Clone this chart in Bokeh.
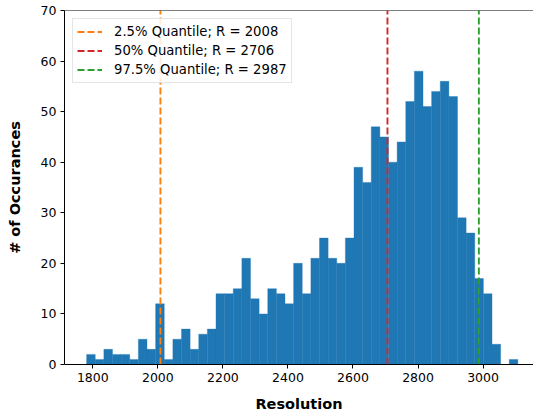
import numpy as np
from bokeh.plotting import figure
from bokeh.models import Range1d, FixedTicker, Span
from bokeh.embed import file_html
from bokeh.resources import INLINE

# ---- data ----
counts = [2, 1, 3, 2, 2, 1, 5, 3, 12, 1, 5, 7, 3, 6, 7,
          14, 14, 15, 21, 13, 10, 15, 14, 12, 20, 14, 21, 25, 21, 20, 25,
          39, 36, 47, 45, 40, 44, 52, 58, 51, 54, 56, 53, 29, 26, 17, 14, 4, 0, 1]
hist_min = 1781
hist_max = 3107
n_bins = 50

quantile_values = [2008, 2706, 2987]
quantile_labels = ["2.5% Quantile; R = 2008", "50% Quantile; R = 2706", "97.5% Quantile; R = 2987"]
quantile_colors = ["#ff7f0e", "#d62728", "#2ca02c"]

x_ticks = [1800, 2000, 2200, 2400, 2600, 2800, 3000]
y_ticks = [0, 10, 20, 30, 40, 50, 60, 70]

edges = np.linspace(hist_min, hist_max, n_bins + 1)

FONT = "DejaVu Sans"

p = figure(width=533, height=416, x_range=Range1d(1713, 3155), y_range=Range1d(0, 70),
           output_backend="svg", toolbar_location=None,
           min_border_left=64, min_border_right=0, min_border_top=10, min_border_bottom=52)
p.background_fill_color = "white"
p.border_fill_color = "white"
p.outline_line_color = None
p.grid.visible = False

p.quad(left=edges[:-1], right=edges[1:], bottom=0, top=counts,
       fill_color="#1f77b4", line_color="#1f77b4", line_width=0.6, line_alpha=0.6)

for q, lab, col in zip(quantile_values, quantile_labels, quantile_colors):
    p.line(x=[q, q], y=[y_ticks[0], y_ticks[-1]], line_color=col, line_width=1.9,
           line_dash="7 3", legend_label=lab)

# top spine
p.add_layout(Span(location=y_ticks[-1], dimension="width", line_color="black", line_width=1))

for ax in (p.xaxis, p.yaxis):
    ax.axis_line_color = "black"
    ax.axis_line_width = 1
    ax.major_tick_line_color = "black"
    ax.major_tick_out = 4
    ax.major_tick_in = 0
    ax.minor_tick_line_color = None
    ax.major_label_text_font = FONT
    ax.major_label_text_font_size = "12.5px"
    ax.major_label_text_color = "black"
    ax.major_label_standoff = 4
    ax.axis_label_text_font = FONT
    ax.axis_label_text_font_size = "14.5px"
    ax.axis_label_text_font_style = "bold"
    ax.axis_label_text_color = "black"

p.xaxis.ticker = FixedTicker(ticks=x_ticks)
p.yaxis.ticker = FixedTicker(ticks=y_ticks)
p.xaxis.axis_label = "Resolution"
p.yaxis.axis_label = "# of Occurances"
p.xaxis.axis_label_standoff = 11
p.yaxis.axis_label_standoff = 15

lg = p.legend[0]
lg.location = "top_left"
lg.margin = 8
lg.padding = 4
lg.spacing = 2
lg.glyph_width = 25
lg.glyph_height = 17
lg.label_height = 17
lg.label_standoff = 12
lg.label_text_font = FONT
lg.label_text_font_size = "13.2px"
lg.label_text_color = "black"
lg.border_line_color = "#cccccc"
lg.border_line_width = 1
lg.background_fill_color = "white"
lg.background_fill_alpha = 0.85

open("out.html", "w").write(file_html(p, INLINE))
